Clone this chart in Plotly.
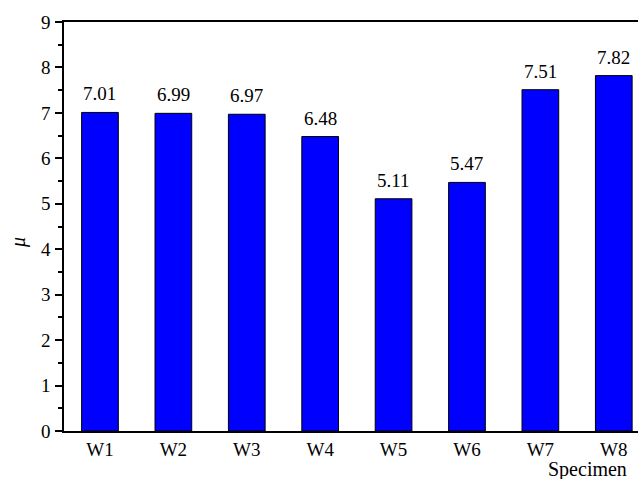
import plotly.graph_objects as go

categories = ["W1", "W2", "W3", "W4", "W5", "W6", "W7", "W8"]
mu_values = [7.01, 6.99, 6.97, 6.48, 5.11, 5.47, 7.51, 7.82]
value_labels = ["7.01", "6.99", "6.97", "6.48", "5.11", "5.47", "7.51", "7.82"]
y_ticks = [0, 1, 2, 3, 4, 5, 6, 7, 8, 9]

FONT = "Liberation Serif, Times New Roman, serif"

fig = go.Figure()
fig.add_trace(go.Bar(
    x=categories, y=mu_values, width=0.5,
    marker=dict(color="#0000FF", line=dict(color="black", width=1)),
    showlegend=False, hoverinfo="skip",
))

for c, v, t in zip(categories, mu_values, value_labels):
    fig.add_annotation(x=c, y=v, text=t, showarrow=False, yanchor="bottom",
                       yshift=6, font=dict(family=FONT, size=19, color="black"))

fig.add_annotation(xref="paper", yref="paper", x=0.983, y=-0.093, xanchor="right",
                   yanchor="middle", text="Specimen", showarrow=False, borderpad=0,
                   font=dict(family=FONT, size=20, color="black"))
fig.add_annotation(xref="paper", yref="paper", x=-0.078, y=0.46, xanchor="center",
                   yanchor="middle", text="<i>μ</i>", textangle=-90, showarrow=False,
                   font=dict(family=FONT, size=20, color="black"))

fig.update_layout(
    width=638, height=479,
    margin=dict(l=64, r=0, t=22, b=48),
    paper_bgcolor="white", plot_bgcolor="white",
    font=dict(family=FONT, size=19, color="black"),
    xaxis=dict(range=[-0.49, 7.33], showline=True, linecolor="black", linewidth=2,
               mirror=True, ticks="", showgrid=False, zeroline=False,
               ticklabelstandoff=0, tickfont=dict(family=FONT, size=19)),
    yaxis=dict(range=[0, 9], tickvals=y_ticks, showline=True, linecolor="black",
               linewidth=1.5, ticks="outside", ticklen=7, tickwidth=1.5,
               tickcolor="black", showgrid=False, zeroline=False,
               minor=dict(dtick=0.5, ticks="outside", ticklen=4, tickwidth=1.5,
                          tickcolor="black", showgrid=False),
               ticklabelstandoff=1, tickfont=dict(family=FONT, size=19)),
)

# remove the page's default body margin so the figure fills the 638x479 view exactly
fig.write_html(
    "out.html",
    config={"displayModeBar": False},
    post_script="document.body.style.margin='0';document.body.style.overflow='hidden';",
)
